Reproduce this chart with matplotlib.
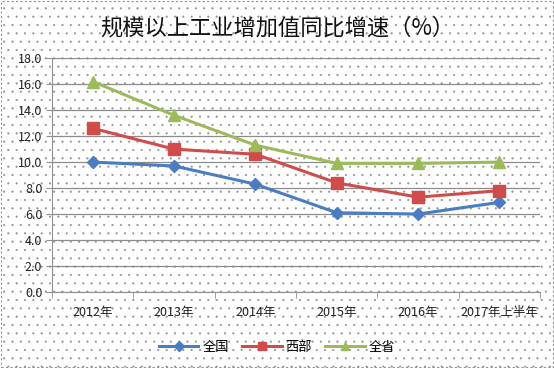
import matplotlib.pyplot as plt
from matplotlib.patches import Rectangle

plt.rcParams['font.family'] = ['Noto Sans CJK SC', 'DejaVu Sans']
plt.rcParams['hatch.color'] = '#e6e6e6'
plt.rcParams['hatch.linewidth'] = 0.3

years = ['2012年', '2013年', '2014年', '2015年', '2016年', '2017年上半年']
quanguo = [10.0, 9.7, 8.3, 6.1, 6.0, 6.9]
xibu = [12.6, 11.0, 10.6, 8.4, 7.3, 7.8]
quansheng = [16.2, 13.6, 11.3, 9.9, 9.9, 10.0]
yticks = [0, 2, 4, 6, 8, 10, 12, 14, 16, 18]

fig = plt.figure(figsize=(5.54, 3.68), dpi=100)

# 虚线边框 + 点状底纹
bg = Rectangle((0.002, 0.003), 0.996, 0.994, transform=fig.transFigure,
               facecolor='white', edgecolor='#909090', linestyle=(0, (2, 2)),
               linewidth=0.8, hatch='..', zorder=-10)
fig.patches.append(bg)

ax = fig.add_axes([0.094, 0.2065, 0.881, 0.6355])
ax.patch.set_alpha(0)
ax.set_zorder(5)

x = list(range(len(years)))
ax.plot(x, quanguo, color='#4a7cc4', marker='D', markersize=6, linewidth=2.2, label='全国', zorder=3)
ax.plot(x, xibu, color='#d24b4b', marker='s', markersize=8, linewidth=2.2, label='西部', zorder=3)
ax.plot(x, quansheng, color='#9bbb59', marker='^', markersize=8, linewidth=2.2, label='全省', zorder=3)

ax.set_xlim(-0.5, len(years) - 0.5)
ax.set_ylim(0, 18)
ax.set_yticks(yticks)
ax.set_yticklabels([f'{v:.1f}' for v in yticks], fontsize=9, color='#222222')
ax.set_xticks(x)
ax.set_xticklabels(years, fontsize=9, color='#222222')
ax.set_xticks([i - 0.5 for i in range(len(years) + 1)], minor=True)
ax.tick_params(axis='x', which='major', length=0, pad=10)
ax.tick_params(axis='x', which='minor', length=4, color='#909090')
ax.tick_params(axis='y', length=4, color='#909090', pad=3)

ax.grid(axis='y', color='#8c8c8c', linewidth=0.9)
ax.set_axisbelow(True)
for s in ['top', 'right']:
    ax.spines[s].set_visible(False)
ax.spines['left'].set_color('#909090')
ax.spines['bottom'].set_color('#909090')

fig.text(0.5, 0.925, '规模以上工业增加值同比增速（%）', ha='center', va='center', fontsize=16, color='#111111')

fig.legend(loc='center', bbox_to_anchor=(0.5, 0.057), ncol=3, frameon=False, fontsize=9.5,
           handlelength=3.0, columnspacing=1.0, handletextpad=0.3, markerscale=0.8)

fig.savefig('out.png', dpi=100)
